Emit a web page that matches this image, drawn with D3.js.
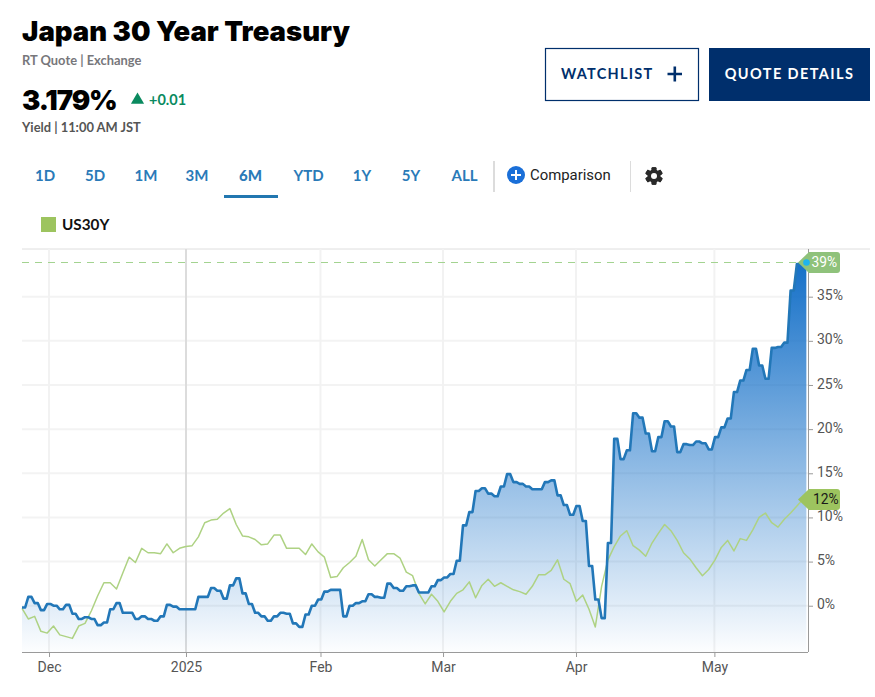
<!DOCTYPE html>
<html><head><meta charset="utf-8">
<script src="https://cdnjs.cloudflare.com/ajax/libs/d3/7.8.5/d3.min.js"></script>
<style>html,body{margin:0;padding:0;background:#fff}svg{display:block}
.axis path,.axis line{stroke:#9a9a9a}.axis text{font:14px Roboto,sans-serif;fill:#555}</style>
</head><body><div id="c"></div>
<script>
const title = "Japan 30 Year Treasury";
const rangeLabels = ["1D","5D","1M","3M","6M","YTD","1Y","5Y","ALL"];
const monthLabels = ["Dec","2025","Feb","Mar","Apr","May"];
const monthSessions = [4.29,26.03,47.38,66.83,87.94,109.9];
const percentTicks = [0,5,10,15,20,25,30,35];
const jpValues = [-0.2,1.0,0.3,-0.5,0.2,0.0,-0.4,0.1,-0.9,-1.5,-1.3,-1.5,-2.2,-1.9,-0.4,0.3,-0.8,-0.8,-1.5,-1.2,-1.5,-1.7,-1.2,0.1,-0.1,-0.4,-0.4,-0.4,1.0,1.0,2.0,1.7,0.8,2.3,3.1,1.4,0.2,-0.8,-1.2,-1.7,-1.2,-0.8,-0.9,-2.0,-2.4,-1.0,0.0,0.7,1.6,1.8,1.8,-1.2,0.0,0.3,0.5,1.3,1.0,0.9,2.5,2.0,1.7,2.2,2.3,1.5,1.5,2.2,2.9,3.2,3.6,5.1,9.1,10.6,13.0,13.3,12.7,12.4,13.5,14.9,14.0,13.8,13.5,13.2,13.2,14.0,14.2,12.5,11.4,10.3,11.3,9.6,4.5,0.7,-1.4,7.1,18.9,16.6,17.6,21.8,21.3,19.5,17.5,19.1,20.9,20.3,17.4,18.3,18.2,18.6,18.4,17.7,19.1,20.2,21.2,24.2,25.5,26.7,29.1,27.2,25.7,29.2,29.3,29.8,35.7,38.7,38.7];
const usValues = [-0.3,-1.5,-1.2,-2.9,-3.1,-2.3,-3.3,-3.5,-3.7,-2.3,-2.0,-0.6,1.1,2.6,2.6,1.9,3.7,5.5,4.9,6.5,6.0,6.0,5.9,7.0,6.0,6.5,6.7,6.8,7.8,9.4,9.7,9.8,10.5,11.0,9.2,7.9,7.8,7.5,6.9,7.0,8.0,8.0,6.5,6.5,6.5,5.8,7.0,6.1,5.5,3.2,3.3,4.3,4.9,5.6,7.5,5.2,4.5,5.2,5.9,5.9,5.4,3.8,3.4,1.4,0.2,1.3,0.5,-0.7,0.5,1.4,1.8,2.7,0.9,2.3,3.0,2.2,2.6,2.2,1.8,1.6,1.3,2.2,3.5,3.5,4.0,5.2,3.0,2.5,0.5,1.2,-0.4,-2.4,2.2,5.2,6.7,7.9,8.5,6.8,6.3,5.6,7.1,8.2,9.2,8.5,7.4,6.0,5.3,4.3,3.4,4.1,5.2,6.6,7.4,6.2,7.6,7.4,8.6,10.0,10.5,9.4,8.9,9.8,10.5,11.3,12.1];
const jpTag = 39, usTag = 12;

const W=875,H=697,L=22,R=808,T=249,B=652;
const navy="#002f6c", link="#2a7ab8", usC="#aed283", jpC="#2277b8", font="Lato,sans-serif", heavy="Inter,sans-serif";
const svg=d3.select("#c").append("svg").attr("width",W).attr("height",H);
const x=d3.scaleLinear().domain([0,124.76]).range([L,R]);
const y=d3.scaleLinear().domain([-5.24,40.4]).range([B,T]);

function txt(s,px,py,size,weight,fill,fam,anchor,ls){
  return svg.append("text").text(s).attr("x",px).attr("y",py)
    .attr("font-size",size).attr("font-weight",weight).attr("fill",fill)
    .attr("font-family",fam||font).attr("text-anchor",anchor||"start")
    .attr("letter-spacing",ls||0);
}
// header
txt(title,22,41,27.5,900,"#000",heavy);
txt("RT Quote | Exchange",22,65,12.9,700,"#77777b");
txt("3.179%",22,110,27.5,900,"#000",heavy,"start",-1.1);
svg.append("path").attr("d",d3.symbol(d3.symbolTriangle,75)()).attr("transform","translate(137.5,100)").attr("fill","#0a8a5f");
txt("+0.01",149,105,14.5,700,"#0a8a5f");
txt("Yield | 11:00 AM JST",22,132,12.9,700,"#555");

// buttons
svg.append("rect").attr("x",545.5).attr("y",48.5).attr("width",153).attr("height",52).attr("fill","#fff").attr("stroke",navy).attr("stroke-width",1.2);
txt("WATCHLIST",561,79,14.5,700,navy,font,"start",1.25);
svg.append("path").attr("d","M667.5 74H682M674.8 66.5V81.5").attr("stroke",navy).attr("stroke-width",2.6);
svg.append("rect").attr("x",709).attr("y",48).attr("width",161).attr("height",53).attr("fill",navy);
txt("QUOTE DETAILS",789.5,79,14.5,700,"#fff",font,"middle",1.4);

// range nav
const navX=[45,95,146,197,250.5,308.5,362,411,464.5];
rangeLabels.forEach((s,i)=>txt(s,navX[i],181,15,s==="6M"?900:700,link,font,"middle"));
svg.append("rect").attr("x",224).attr("y",195).attr("width",54).attr("height",3).attr("fill","#2277b0");
svg.append("rect").attr("x",493).attr("y",161).attr("width",2).attr("height",31).attr("fill","#dcdcdc");
svg.append("rect").attr("x",630).attr("y",161).attr("width",1).attr("height",31).attr("fill","#dcdcdc");
svg.append("circle").attr("cx",516).attr("cy",175).attr("r",9).attr("fill","#1a6fd8");
svg.append("path").attr("d","M511 175H521M516 170V180").attr("stroke","#fff").attr("stroke-width",2);
txt("Comparison",530,180,14.9,400,"#222","Roboto,sans-serif");
// gear
const gear=svg.append("g").attr("transform","translate(654,176)");
d3.range(6).forEach(k=>gear.append("rect").attr("x",-2.4).attr("y",-8.8).attr("width",4.8).attr("height",17.6).attr("rx",1).attr("fill","#2a2a2a").attr("transform",`rotate(${k*60})`));
gear.append("circle").attr("r",6.6).attr("fill","#2a2a2a");
gear.append("circle").attr("r",3).attr("fill","#fff");
// legend
svg.append("rect").attr("x",41).attr("y",217).attr("width",15).attr("height",15).attr("fill","#9dc45f");
txt("US30Y",62,230,15.3,700,"#111");

// plot frame & grid
svg.append("line").attr("x1",L).attr("x2",870).attr("y1",T).attr("y2",T).attr("stroke","#dedede");
percentTicks.forEach(v=>svg.append("line").attr("x1",L).attr("x2",R).attr("y1",y(v)).attr("y2",y(v)).attr("stroke","#f3f3f3").attr("stroke-width",2));
monthSessions.forEach((s,i)=>svg.append("line").attr("x1",x(s)).attr("x2",x(s)).attr("y1",T).attr("y2",B).attr("stroke",monthLabels[i]==="2025"?"#dcdcdc":"#f2f2f2").attr("stroke-width",2));

// gradient
const defs=svg.append("defs");
const grad=defs.append("linearGradient").attr("id","g").attr("gradientUnits","userSpaceOnUse").attr("x1",0).attr("x2",0).attr("y1",y(38.7)).attr("y2",B);
grad.append("stop").attr("offset",0).attr("stop-color","#1570c8");
grad.append("stop").attr("offset",1).attr("stop-color","#1570c8").attr("stop-opacity",0.01);

// step vertices for the Japan series
const jpPts=jpValues.flatMap((v,i)=>[[i,v],[i+0.5,v]]);
svg.append("path").attr("d",d3.area().x(d=>x(d[0])).y0(B).y1(d=>y(d[1]))(jpPts)).attr("fill","url(#g)");

svg.append("line").attr("x1",L).attr("x2",798).attr("y1",262.5).attr("y2",262.5).attr("stroke","#a3d390").attr("stroke-width",1.2).attr("stroke-dasharray","7 6");
svg.append("path").datum(usValues).attr("d",d3.line().x((d,i)=>x(i)).y(d=>y(d))).attr("fill","none").attr("stroke",usC).attr("stroke-width",1.5).attr("stroke-linejoin","round");
svg.append("path").datum(jpPts).attr("d",d3.line().x(d=>x(d[0])).y(d=>y(d[1]))).attr("fill","none").attr("stroke",jpC).attr("stroke-width",2.6).attr("stroke-linejoin","round");

// axes
svg.append("g").attr("class","axis").attr("transform",`translate(0,${B})`)
  .call(d3.axisBottom(x).tickValues(monthSessions).tickFormat((d,i)=>monthLabels[i]).tickSize(5).tickPadding(5))
  .call(g=>g.select(".domain").attr("d",`M${L},0.5H${R}`));
svg.append("g").attr("class","axis").attr("transform",`translate(${R},0)`)
  .call(d3.axisRight(y).tickValues(percentTicks).tickFormat(d=>d+"%").tickSize(5).tickPadding(4))
  .call(g=>g.select(".domain").attr("d",`M0.5,${T}V${B}`))
  .call(g=>g.selectAll("text").attr("dy","0.22em"));

// value tags
function tag(v,cy,fill,color,extra){
  const top=cy-10.5,bot=cy+10.5,r=840;
  svg.append("path").attr("d",`M798 ${cy}L809 ${top}H${r-3}Q${r} ${top} ${r} ${top+3}V${bot-3}Q${r} ${bot} ${r-3} ${bot}H809Z`).attr("fill",fill);
  txt(v+"%",extra,cy+4.7,13.8,400,color,"Roboto,sans-serif");
}
tag(jpTag,262.5,"#8fc27b","#fff",811.5);
svg.append("circle").attr("cx",806.5).attr("cy",262.5).attr("r",3.3).attr("fill","#1eb4ee");
tag(usTag,499.5,"#9dc45f","#1a1a1a",813);
</script></body></html>
